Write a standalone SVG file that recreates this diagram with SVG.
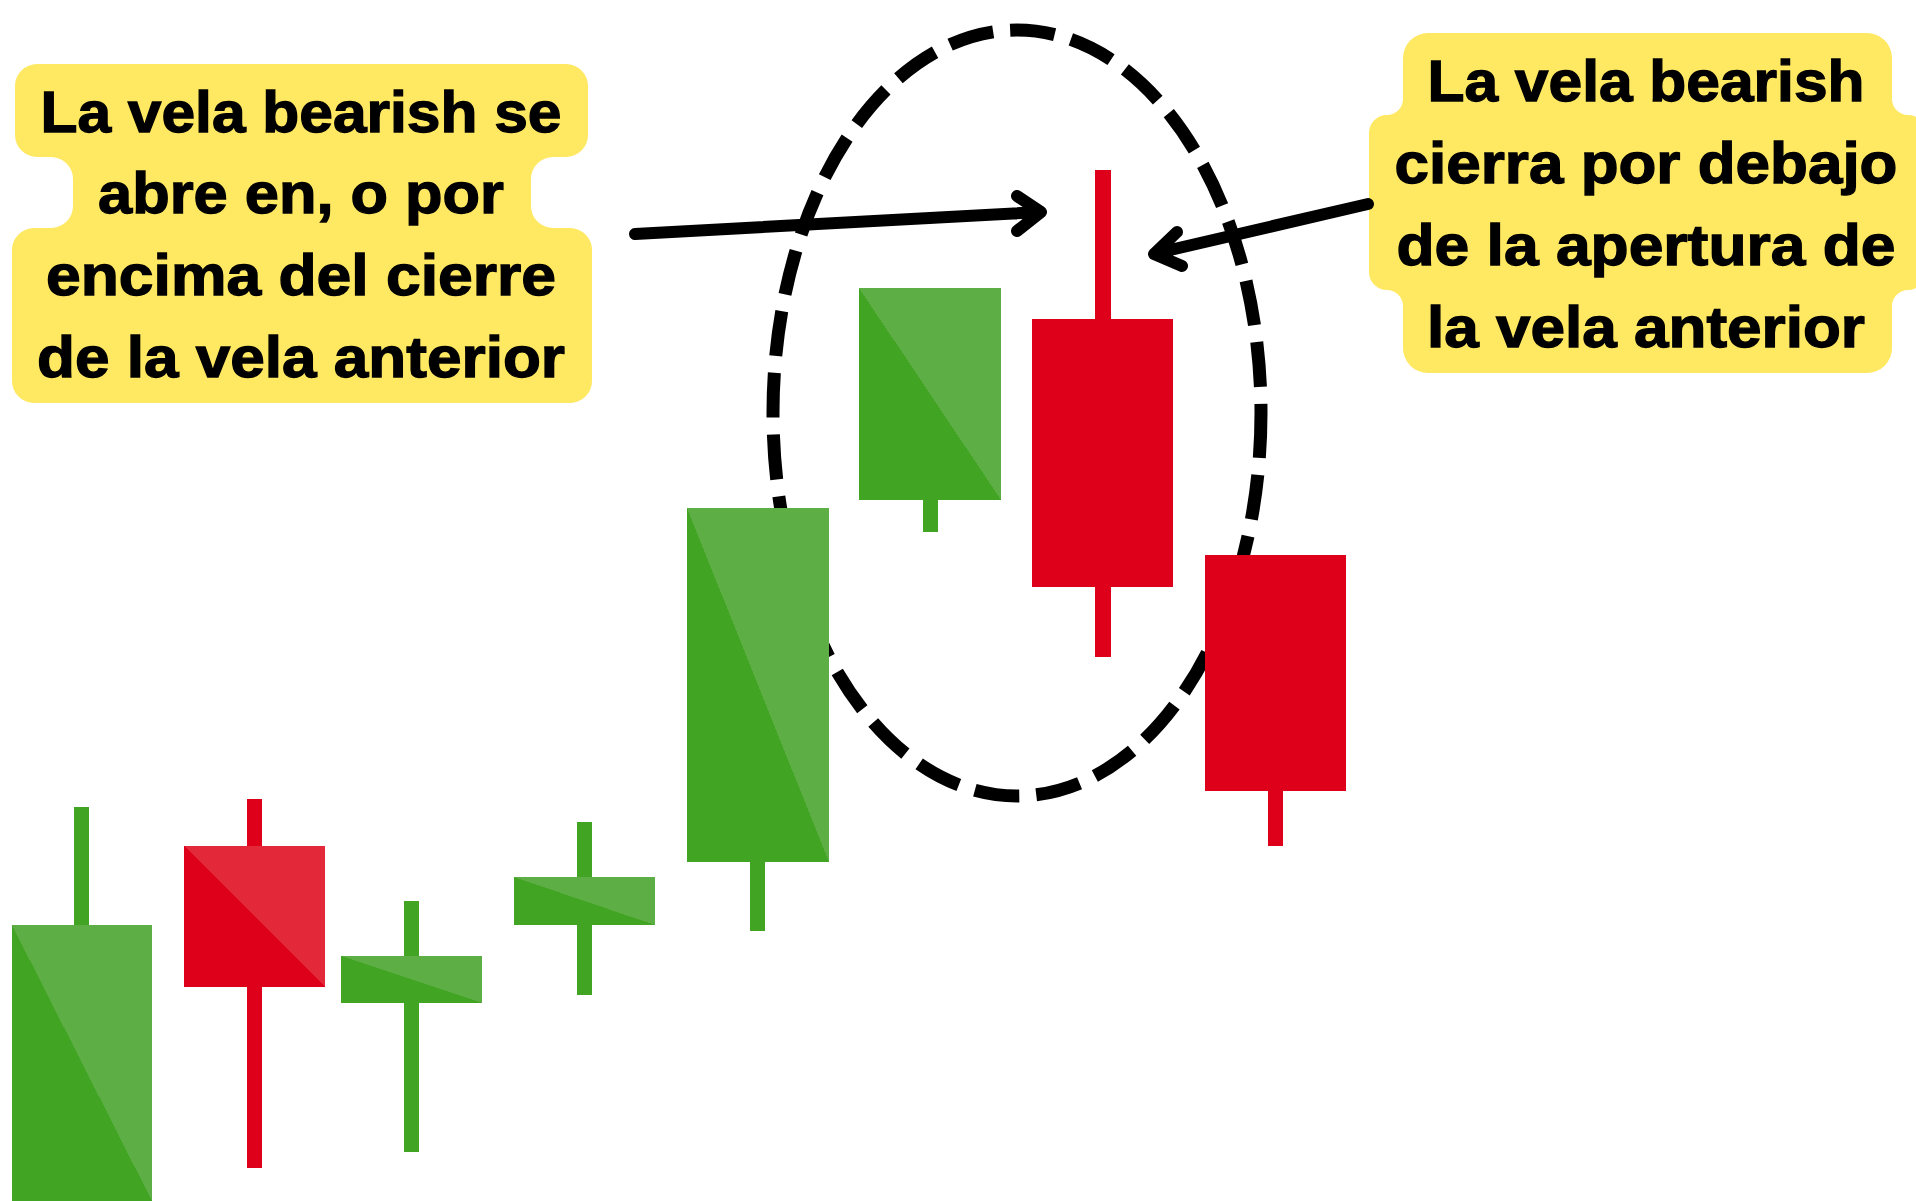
<svg xmlns="http://www.w3.org/2000/svg" width="1916" height="1201" viewBox="0 0 1916 1201">
<style>
.gw{fill:#41A422}
.rw{fill:#DE001B}
.gb{fill:url(#gGreen)}
.rb{fill:url(#gRed)}
.rs{fill:#DE001B}
.box{fill:#FFE862}
.lbl{font-family:"Liberation Sans",Arial,sans-serif;font-weight:700;font-size:58px;fill:#000;stroke:#000;stroke-width:1.3;text-anchor:middle}
.arr{fill:none;stroke:#000;stroke-width:12;stroke-linecap:round;stroke-linejoin:round}
.ell{fill:none;stroke:#000;stroke-width:13;stroke-dasharray:45 17}
</style>
<defs>
<linearGradient id="gGreen" x1="0" y1="1" x2="1" y2="0"><stop offset="0.5" stop-color="#41A422"/><stop offset="0.5" stop-color="#5DAF45"/></linearGradient>
<linearGradient id="gRed" x1="0" y1="1" x2="1" y2="0"><stop offset="0.5" stop-color="#DE001B"/><stop offset="0.5" stop-color="#E3283A"/></linearGradient>
</defs>
<rect width="1916" height="1201" fill="#fff"/>
<g id="highlight-ellipse"><ellipse class="ell" cx="1017" cy="413" rx="244" ry="383"/></g>
<g id="candle1"><rect class="gw" x="74" y="807" width="15" height="130"/><rect class="gb" x="12" y="925" width="140" height="276"/></g>
<g id="candle2"><rect class="rw" x="247" y="799" width="15" height="369"/><rect class="rb" x="184" y="846" width="141" height="141"/></g>
<g id="candle3"><rect class="gw" x="404" y="901" width="15" height="251"/><rect class="gb" x="341" y="956" width="141" height="47"/></g>
<g id="candle4"><rect class="gw" x="577" y="822" width="15" height="173"/><rect class="gb" x="514" y="877" width="141" height="48"/></g>
<g id="candle5"><rect class="gw" x="750" y="800" width="15" height="131"/><rect class="gb" x="687" y="508" width="142" height="354"/></g>
<g id="candle6"><rect class="gw" x="923" y="480" width="15" height="52"/><rect class="gb" x="859" y="288" width="142" height="212"/></g>
<g id="candle7"><rect class="rw" x="1095" y="170" width="16" height="487"/><rect class="rs" x="1032" y="319" width="141" height="268"/></g>
<g id="candle8"><rect class="rw" x="1268" y="770" width="15" height="76"/><rect class="rs" x="1205" y="555" width="141" height="236"/></g>
<g id="label-left">
<path class="box" d="M37,64 H566 A22 22 0 0 1 588,86 V135 A22 22 0 0 1 566,157 H553 A22 22 0 0 0 531,179 V206 A22 22 0 0 0 553,228 H570 A22 22 0 0 1 592,250 V381 A22 22 0 0 1 570,403 H34 A22 22 0 0 1 12,381 V250 A22 22 0 0 1 34,228 H51 A22 22 0 0 0 73,206 V179 A22 22 0 0 0 51,157 H37 A22 22 0 0 1 15,135 V86 A22 22 0 0 1 37,64 Z"/>
<text class="lbl" x="301" y="132" textLength="521" lengthAdjust="spacingAndGlyphs">La vela bearish se</text>
<text class="lbl" x="301" y="213" textLength="406" lengthAdjust="spacingAndGlyphs">abre en, o por</text>
<text class="lbl" x="301" y="295" textLength="510" lengthAdjust="spacingAndGlyphs">encima del cierre</text>
<text class="lbl" x="301" y="377" textLength="528" lengthAdjust="spacingAndGlyphs">de la vela anterior</text>
</g>
<g id="label-right">
<path class="box" d="M1428,33 H1867 A25 25 0 0 1 1892,58 V99 A16 16 0 0 0 1908,115 A17 17 0 0 1 1925,132 V273 A17 17 0 0 1 1908,290 A16 16 0 0 0 1892,306 V348 A25 25 0 0 1 1867,373 H1428 A25 25 0 0 1 1403,348 V306 A16 16 0 0 0 1387,290 A18 18 0 0 1 1369,272 V133 A18 18 0 0 1 1387,115 A16 16 0 0 0 1403,99 V58 A25 25 0 0 1 1428,33 Z"/>
<text class="lbl" x="1646" y="101" textLength="437" lengthAdjust="spacingAndGlyphs">La vela bearish</text>
<text class="lbl" x="1646" y="183" textLength="503" lengthAdjust="spacingAndGlyphs">cierra por debajo</text>
<text class="lbl" x="1646" y="265" textLength="499" lengthAdjust="spacingAndGlyphs">de la apertura de</text>
<text class="lbl" x="1646" y="347" textLength="438" lengthAdjust="spacingAndGlyphs">la vela anterior</text>
</g>
<g id="connectors">
<path class="arr" d="M635,234 L1040,212 M1017,196 L1041,212 L1017,231"/>
<path class="arr" d="M1368,204 L1157,253 M1177,232 L1154,254 L1182,266"/>
</g>
</svg>
